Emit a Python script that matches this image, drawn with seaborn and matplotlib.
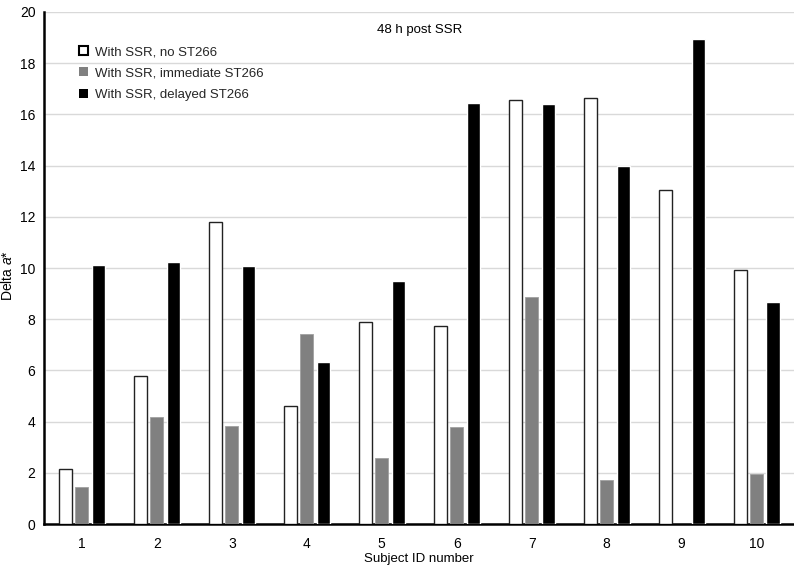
import pandas as pd
import numpy as np
import seaborn as sns
import matplotlib.pyplot as plt
from matplotlib.patches import Patch

subjects = ['1', '2', '3', '4', '5', '6', '7', '8', '9', '10']
no_st266 = [2.15, 5.78, 11.78, 4.62, 7.89, 7.73, 16.56, 16.64, 13.03, 9.91]
immediate_st266 = [1.43, 4.17, 3.85, 7.41, 2.60, 3.78, 8.87, 1.71, np.nan, 1.96]
delayed_st266 = [10.13, 10.22, 10.08, 6.34, 9.48, 16.46, 16.42, 13.97, 18.95, 8.67]
groups = ['With SSR, no ST266', 'With SSR, immediate ST266', 'With SSR, delayed ST266']
colors = ['white', '#808080', 'black']

df = pd.DataFrame({
    'subject': subjects * 3,
    'group': [groups[0]] * 10 + [groups[1]] * 10 + [groups[2]] * 10,
    'value': no_st266 + immediate_st266 + delayed_st266,
}).dropna()

sns.set_theme(style="white")
plt.rcParams['font.family'] = ['Liberation Sans', 'DejaVu Sans']
plt.rcParams['mathtext.fontset'] = 'custom'
plt.rcParams['mathtext.it'] = 'Liberation Sans:italic'
fs = 9.5

fig = plt.figure(figsize=(7.94, 5.66), dpi=100)
ax = fig.add_axes([0.056, 0.074, 0.944, 0.905])

sns.barplot(data=df, x='subject', y='value', hue='group', order=subjects,
            hue_order=groups, palette=colors, width=0.66, gap=0.21,
            errorbar=None, ax=ax, legend=False, saturation=1, zorder=3)

# white bars get a thin dark outline
for bar in ax.containers[0]:
    bar.set_edgecolor('#222222')
    bar.set_linewidth(1.0)
for bar in ax.containers[1]:
    bar.set_edgecolor('#a0a0a0')
    bar.set_linewidth(0.6)

ax.set_ylim(0, 20)
ax.set_xlim(-0.5, 9.5)
ax.set_yticks(range(0, 21, 2))
ax.yaxis.grid(True, color='#d9d9d9', linewidth=1.0, zorder=0)
ax.set_axisbelow(True)
for s in ['top', 'right']:
    ax.spines[s].set_visible(False)
ax.spines['left'].set_linewidth(1.8)
ax.spines['left'].set_color('black')
ax.spines['bottom'].set_linewidth(1.8)
ax.spines['bottom'].set_color('black')
ax.tick_params(axis='x', length=0, labelsize=fs + 0.5, colors='black', pad=9)
ax.tick_params(axis='y', length=0, labelsize=fs + 0.5, colors='black', pad=6.5)

ax.set_xlabel('Subject ID number', fontsize=fs, color='black', labelpad=2)
ax.set_ylabel(r'Delta $\mathit{a}$*', fontsize=fs + 0.5, color='black')
ax.yaxis.set_label_coords(-0.039, 0.486)
ax.text(0.5, 0.977, '48 h post SSR', transform=ax.transAxes, ha='center',
        va='top', fontsize=fs, color='black')

handles = [Patch(facecolor=c, edgecolor='black' if c == 'white' else c,
                 linewidth=1.5 if c == 'white' else 0) for c in colors]
ax.legend(handles, groups, loc='upper left', bbox_to_anchor=(0.03, 0.957),
          frameon=False, handlelength=0.7, handleheight=0.7,
          handletextpad=0.5, labelspacing=0.7, fontsize=fs)

plt.savefig('out.png', dpi=100)
